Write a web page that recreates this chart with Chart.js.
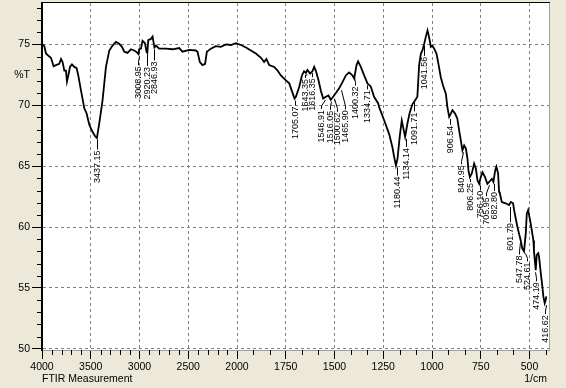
<!DOCTYPE html>
<html>
<head>
<meta charset="utf-8">
<script src="https://cdn.jsdelivr.net/npm/chart.js@4.4.1/dist/chart.umd.min.js"></script>
<style>
  html, body { margin: 0; padding: 0; background: #ece9d8; }
  #wrap { width: 566px; height: 388px; }
</style>
</head>
<body>
<div id="wrap"><canvas id="chart" width="566" height="388"></canvas></div>
<script>
// spectrum (1/cm, %T)
var wavenumbers = [
  4000, 3976, 3959, 3925, 3908, 3881, 3857, 3823, 3805, 3789, 3771, 3754, 3744, 3730, 3713, 3693,
  3669, 3645, 3628, 3600, 3566, 3543, 3515, 3481, 3455, 3437, 3413, 3379, 3344, 3310, 3276, 3242,
  3208, 3180, 3156, 3123, 3088, 3054, 3026, 3010, 3003, 2985, 2969, 2944, 2928, 2920, 2910, 2883,
  2866, 2847, 2831, 2798, 2729, 2661, 2593, 2559, 2490, 2422, 2405, 2381, 2354, 2327, 2309, 2268,
  2217, 2166, 2114, 2063, 2011, 1980, 1954, 1929, 1903, 1877, 1861, 1849, 1835, 1809, 1792, 1775,
  1749, 1732, 1705, 1698, 1681, 1667, 1656, 1647, 1639, 1625, 1613, 1604, 1596, 1582, 1570, 1558,
  1544, 1531, 1519, 1507, 1493, 1476, 1459, 1442, 1425, 1408, 1399, 1387, 1379, 1365, 1348, 1331,
  1314, 1297, 1276, 1271, 1245, 1220, 1203, 1194, 1185, 1177, 1165, 1155, 1148, 1138, 1126, 1114,
  1100, 1087, 1075, 1066, 1057, 1049, 1040, 1032, 1023, 1015, 1006, 998, 989, 977, 967, 955,
  943, 929, 921, 912, 904, 895, 881, 870, 861, 852, 844, 835, 826, 818, 813, 806,
  796, 784, 775, 767, 758, 750, 741, 728, 716, 707, 693, 685, 676, 670, 661, 656,
  652, 642, 622, 605, 596, 584, 579, 562, 545, 537, 528, 519, 514, 507, 494, 480,
  477, 472, 468, 463, 455, 451, 442, 434, 429, 422, 417, 414
];
var transmittance = [
  75.05, 74.85, 74.25, 74.0, 73.9, 73.2, 73.3, 73.4, 73.8, 73.55, 72.85, 72.85, 71.95, 72.45, 73.15, 73.35,
  73.15, 73.05, 72.45, 71.2, 69.75, 69.35, 68.4, 67.8, 67.45, 67.3, 68.5, 70.4, 73.15, 74.5, 74.9, 75.2,
  75.05, 74.8, 74.4, 74.3, 74.6, 74.5, 74.35, 74.2, 74.6, 74.65, 75.3, 75.1, 74.4, 74.3, 75.35, 75.45,
  75.65, 74.75, 74.9, 74.65, 74.65, 74.6, 74.7, 74.4, 74.55, 74.5, 74.4, 73.55, 73.3, 73.4, 74.4, 74.65,
  74.85, 74.8, 75.0, 74.95, 75.1, 74.95, 74.75, 74.5, 74.25, 73.9, 73.55, 73.8, 73.3, 73.15, 72.85, 72.45,
  72.05, 71.8, 70.55, 70.7, 71.5, 72.45, 72.8, 72.65, 72.9, 72.6, 72.8, 73.15, 72.85, 72.05, 71.2, 70.55,
  70.7, 70.8, 70.45, 70.7, 71.0, 71.4, 71.9, 72.45, 72.7, 72.45, 72.2, 73.3, 73.6, 73.15, 72.45, 71.8,
  71.55, 70.7, 70.15, 69.85, 68.75, 67.65, 66.55, 65.75, 65.05, 65.6, 67.5, 68.75, 68.2, 67.4, 68.5, 69.4,
  70.1, 70.4, 70.7, 73.3, 74.25, 74.5, 75.05, 75.6, 76.15, 75.6, 74.8, 74.9, 74.65, 74.25, 73.4, 72.3,
  71.6, 70.95, 69.85, 69.05, 69.3, 69.6, 69.3, 68.9, 67.95, 67.1, 66.3, 66.7, 66.45, 65.6, 64.65, 64.1,
  64.4, 65.2, 64.8, 63.85, 63.55, 64.1, 64.5, 64.1, 63.55, 63.7, 63.95, 63.7, 64.65, 64.95, 64.4, 62.9,
  62.75, 62.05, 61.95, 61.8, 62.05, 61.95, 61.4, 60.0, 58.9, 58.25, 58.0, 59.5, 61.1, 61.4, 60.3, 58.9,
  58.0, 57.15, 56.45, 57.7, 57.85, 57.55, 56.2, 55.1, 54.3, 53.75, 54.0, 54.3
];

var xTicks = [4000, 3500, 3000, 2500, 2000, 1750, 1500, 1250, 1000, 750, 500];
var yTicks = [50, 55, 60, 65, 70, 72.5, 75];

// peak picks: label text and %T where the leader line meets the curve
var peakLabels = ['3437.15', '3008.95', '2920.23', '2846.93', '1705.07', '1643.35', '1616.35',
  '1546.91', '1516.05', '1500.62', '1465.90', '1400.32', '1334.71', '1180.44', '1134.14',
  '1091.71', '1041.56', '906.54', '840.95', '806.25', '756.10', '705.95', '682.80',
  '601.79', '547.78', '524.61', '474.19', '416.62'];
var peakT = [67.35, 74.2, 74.3, 74.75, 70.55, 72.65, 72.8, 70.6, 70.45, 70.7, 71.4, 72.45, 71.8,
  65.05, 67.4, 70.4, 75.05, 69.05, 66.3, 64.1, 63.55, 63.6, 63.7, 61.8, 58.9, 58.0, 56.45, 53.75];

// label placement (pixels): leader length below the point, sideways shift of the text column
var labelGap = [13, 12, 14, 14, 8, 6, 7, 12, 11, 16, 22, 11, 7, 11, 11, 12, 13, 9, 15, 6, 7, 14, 10, 18, 15, 11, 12, 12];
var labelDx = [0, -1, 0, 0, 0, -2, 0, -4, -1, 3, 4, 1, 0, 0, 0, 0, 0, 0, -2, 0, 0, -3, 0, 0, -1, 2, 1, -1];

var X_MAX = 4000, X_BREAK = 2000, X_MIN = 400;
var FONT = "'Liberation Sans', Arial, sans-serif";

// x axis is compressed 2:1 above 2000 1/cm, like the instrument printout
class SplitScale extends Chart.LinearScale {
  getPixelForValue(value) {
    var half = (X_MAX - X_BREAK) / 2;
    var total = half + (X_BREAK - X_MIN);
    var u = value >= X_BREAK ? (X_MAX - value) / 2 : half + (X_BREAK - value);
    return this.left + u / total * this.width;
  }
  getValueForPixel(pixel) {
    var half = (X_MAX - X_BREAK) / 2;
    var total = half + (X_BREAK - X_MIN);
    var u = (pixel - this.left) / this.width * total;
    return u <= half ? X_MAX - 2 * u : X_BREAK - (u - half);
  }
}
SplitScale.id = 'split';
SplitScale.defaults = {};
Chart.register(SplitScale);

var noPad = function(s) {
  s.paddingTop = 0; s.paddingBottom = 0; s.paddingLeft = 0; s.paddingRight = 0;
};

var frame = {
  id: 'frame',
  beforeDraw: function(chart) {
    var a = chart.chartArea, ctx = chart.ctx;
    ctx.save();
    ctx.fillStyle = '#ffffff';
    ctx.fillRect(a.left, a.top, a.right - a.left, a.bottom - a.top);
    ctx.restore();
  },
  afterDraw: function(chart) {
    var a = chart.chartArea, ctx = chart.ctx;
    var xs = chart.scales.x, ys = chart.scales.y;
    ctx.save();
    ctx.strokeStyle = '#000';
    ctx.lineWidth = 1;
    ctx.beginPath();
    ctx.moveTo(a.left, a.top - 0.5);
    ctx.lineTo(a.right + 1, a.top - 0.5);
    ctx.stroke();
    ctx.strokeStyle = '#a0a0a0';
    ctx.beginPath();
    ctx.moveTo(a.right + 0.5, a.top);
    ctx.lineTo(a.right + 0.5, a.bottom);
    ctx.stroke();

    // minor ticks
    ctx.strokeStyle = '#000';
    ctx.beginPath();
    var v, p;
    for (v = 3900; v > X_BREAK; v -= 100) {
      if (v % 500 === 0) continue;
      p = Math.round(xs.getPixelForValue(v)) + 0.5;
      ctx.moveTo(p, a.bottom); ctx.lineTo(p, a.bottom + 5);
    }
    for (var k = 1; k * 250 / 3 < X_BREAK - X_MIN; k++) {
      if (k % 3 === 0) continue;
      p = Math.round(xs.getPixelForValue(X_BREAK - k * 250 / 3)) + 0.5;
      ctx.moveTo(p, a.bottom); ctx.lineTo(p, a.bottom + 5);
    }
    for (v = 51; v <= 78; v++) {
      if (v % 5 === 0) continue;
      p = Math.round(ys.getPixelForValue(v)) + 0.5;
      ctx.moveTo(a.left - 5, p); ctx.lineTo(a.left, p);
    }
    ctx.stroke();

    ctx.fillStyle = '#000';
    ctx.font = '10.5px ' + FONT;
    ctx.textAlign = 'right';
    ctx.textBaseline = 'middle';
    ctx.fillText('1/cm', a.right - 2, 379);
    ctx.restore();
  }
};

var peakText = {
  id: 'peakText',
  afterDatasetsDraw: function(chart) {
    var xs = chart.scales.x, ys = chart.scales.y, ctx = chart.ctx;
    ctx.save();
    ctx.strokeStyle = '#000';
    ctx.fillStyle = '#000';
    ctx.lineWidth = 1;
    ctx.font = '9px ' + FONT;
    peakLabels.forEach(function(txt, i) {
      var px = Math.round(xs.getPixelForValue(parseFloat(txt))) + 0.5;
      var py = ys.getPixelForValue(peakT[i]);
      var lx = px + labelDx[i];
      var top = py + labelGap[i];
      ctx.beginPath();
      ctx.moveTo(px, py + 2);
      if (labelDx[i] !== 0) ctx.lineTo(lx, Math.max(py + 2, top - 4));
      ctx.lineTo(lx, top - 1);
      ctx.stroke();
      ctx.save();
      ctx.translate(lx, top);
      ctx.rotate(-Math.PI / 2);
      ctx.textAlign = 'right';
      ctx.textBaseline = 'middle';
      ctx.fillText(txt, 0, 0);
      ctx.restore();
    });
    ctx.restore();
  }
};

var isGap = function(c) { return c.tick && c.tick.value === 72.5; };

new Chart(document.getElementById('chart'), {
  type: 'line',
  data: {
    datasets: [{
      data: wavenumbers.map(function(w, i) { return { x: w, y: transmittance[i] }; }),
      borderColor: '#000',
      borderWidth: 1.8,
      pointRadius: 0,
      tension: 0,
      fill: false
    }]
  },
  options: {
    responsive: false,
    animation: false,
    layout: { autoPadding: false, padding: { top: 3, right: 17, bottom: 0, left: 0 } },
    plugins: { legend: { display: false }, tooltip: { enabled: false } },
    scales: {
      x: {
        type: 'split',
        min: X_MIN,
        max: X_MAX,
        afterBuildTicks: function(s) { s.ticks = xTicks.map(function(v) { return { value: v }; }); },
        afterFit: function(s) { s.height = 38; noPad(s); },
        ticks: {
          autoSkip: false, maxRotation: 0, color: '#000', padding: 2,
          font: { family: FONT, size: 10.5 },
          callback: function(v) { return String(v); }
        },
        grid: {
          color: function(c) { return c.tick && c.tick.value === 4000 ? 'rgba(0,0,0,0)' : '#808080'; },
          tickColor: '#000', tickLength: 9, lineWidth: 1
        },
        border: { color: '#a0a0a0', width: 1, dash: [3, 3] },
        title: {
          display: true, text: 'FTIR Measurement', align: 'start', color: '#000',
          font: { family: FONT, size: 10.5 }, padding: { top: 0, bottom: 3 }
        }
      },
      y: {
        min: 49.9,
        max: 78.4,
        afterBuildTicks: function(s) { s.ticks = yTicks.map(function(v) { return { value: v }; }); },
        afterFit: function(s) { s.width = 42; noPad(s); },
        ticks: {
          autoSkip: false, color: '#000', padding: 2,
          font: { family: FONT, size: 10.5 },
          callback: function(v) { return v === 72.5 ? '%T' : String(v); }
        },
        grid: {
          color: function(c) { return isGap(c) ? 'rgba(0,0,0,0)' : '#808080'; },
          tickColor: function(c) { return isGap(c) ? 'rgba(0,0,0,0)' : '#000'; },
          tickLength: 10, lineWidth: 1
        },
        border: { color: '#000', width: 2, dash: [3, 3] }
      }
    }
  },
  plugins: [frame, peakText]
});
</script>
</body>
</html>
